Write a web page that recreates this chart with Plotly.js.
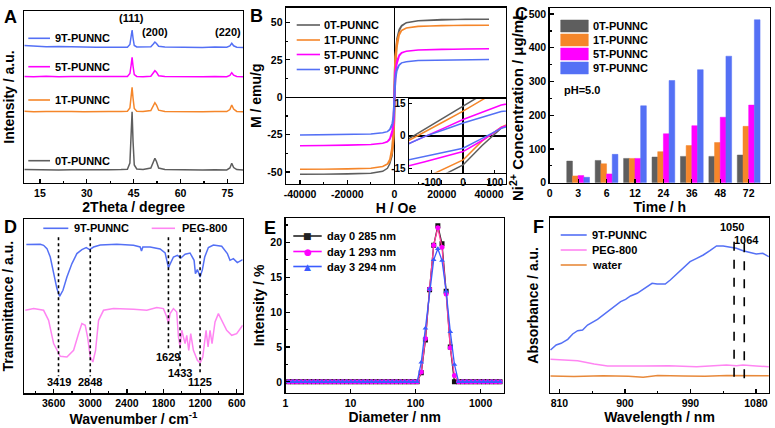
<!DOCTYPE html>
<html>
<head>
<meta charset="utf-8">
<script src="https://cdn.plot.ly/plotly-3.0.1.min.js"></script>
<style>
  html, body { margin: 0; padding: 0; background: #fff; }
  #chart { width: 775px; height: 428px; }
</style>
</head>
<body>
<div id="chart"></div>
<script>
// ---- A: XRD ----
const xrdTheta = [10, 13, 17, 21, 25, 29, 33, 37, 41, 43, 43.8, 44.2, 44.5, 44.8, 45.2, 46, 48, 50.5, 51.3, 51.8, 52.3, 53, 55, 59, 63, 67, 71, 74.8, 75.8, 76.4, 77, 78, 80];
const xrd9T = [137.5, 136.8, 136.2, 136.4, 135.9, 136.1, 135.7, 135.9, 135.6, 135.8, 138.5, 146, 153, 145, 137.5, 136, 135.8, 136.2, 139, 141, 139.5, 136.8, 135.9, 135.7, 136, 135.6, 135.9, 135.7, 137, 139.7, 137.2, 135.8, 135.6];
const xrd5T = [106.6, 106.3, 106.8, 106.2, 106.5, 106.3, 106.6, 106.2, 106.4, 106.5, 109.5, 118, 125.7, 117, 108.5, 106.6, 106.3, 106.8, 110.5, 112.3, 110.8, 107.3, 106.4, 106.2, 106.5, 106.3, 106.6, 106.2, 107.5, 110.3, 107.8, 106.5, 106.3];
const xrd1T = [71.8, 71.3, 71.6, 71.2, 71.5, 71.3, 71.7, 71.4, 71.6, 71.8, 75, 86, 95.7, 85, 74.5, 71.8, 71.5, 72.5, 77.5, 80.3, 78, 72.8, 71.6, 71.3, 71.5, 71.2, 71.6, 71.4, 73.5, 78, 74, 71.6, 71.3];
const xrd0T = [13.5, 13.2, 13.4, 13, 13.3, 13.1, 13.4, 13.2, 13.5, 13.8, 20, 45, 71.3, 42, 18, 14, 13.5, 15, 21, 24.7, 21.5, 15, 13.5, 13.2, 13.3, 13, 13.2, 13.1, 15, 19.7, 15.5, 13.4, 13.1];
const xrdPeakLabels = ['(111)', '(200)', '(220)'];
const xrdPeakTheta = [44.2, 51.9, 75.3];

// ---- B: hysteresis loops ----
const fieldOe = [40000, 30000, 20000, 10000, 5000, 3000, 2000, 1000, 500, 200, 120, 60, 0, -60, -120, -200, -500, -1000, -2000, -3000, -5000, -10000, -20000, -30000, -40000,
  -40000, -30000, -20000, -10000, -5000, -3000, -2000, -1000, -500, -200, -120, -60, 0, 60, 120, 200, 500, 1000, 2000, 3000, 5000, 10000, 20000, 30000, 40000];
const mag0T = [52.2, 52.1, 51.9, 51.2, 49.8, 48, 45.5, 39, 32, 25, 22.5, 19, 13.7, 8.5, 3, -4, -22, -36, -44.5, -47.5, -49.5, -50.8, -51.3, -51.4, -51.4,
  -51.4, -51.4, -51.3, -50.8, -49.5, -47.5, -44.5, -39, -32, -25, -21.5, -18, -13.5, -4.5, 3.5, 9, 24, 36, 44.5, 47.5, 49.8, 51.2, 51.9, 52.1, 52.2];
const mag1T = [48.2, 48.1, 47.9, 47.3, 46.3, 44.8, 43, 37.5, 32, 27, 21.8, 16.6, 11.4, 6.6, 1.8, -4.5, -20, -33, -41.5, -44.5, -46.3, -47.4, -48, -48.2, -48.2,
  -48.2, -48.2, -48, -47.4, -46.3, -44.8, -43, -37.5, -32, -25, -19.5, -15.5, -11.2, -2.4, 4, 9, 21, 33, 41.5, 44.5, 46.3, 47.4, 48, 48.2, 48.2];
const mag5T = [32.4, 32.3, 32.1, 31.6, 30.8, 29.8, 28.3, 24.5, 20.5, 16.5, 14.2, 10.9, 7.5, 3.5, -0.5, -5.5, -15, -22, -27.5, -29.5, -30.8, -31.6, -32.1, -32.3, -32.4,
  -32.4, -32.3, -32.1, -31.6, -30.8, -29.8, -28.3, -24.5, -20.5, -15, -12, -9.5, -7.3, -2.2, 3.8, 8, 15, 22, 27.5, 29.5, 30.8, 31.6, 32.1, 32.3, 32.4];
const mag9T = [25.2, 25.1, 24.9, 24.5, 23.8, 23, 21.8, 19, 16, 12.8, 11.2, 8.6, 5.9, 2.8, -0.3, -5.7, -12.5, -17.5, -21.5, -23, -23.8, -24.5, -24.9, -25.1, -25.2,
  -25.2, -25.1, -24.9, -24.5, -23.8, -23, -21.8, -19, -16, -12, -9.5, -7.8, -5.75, -1.2, 3.4, 7, 12.5, 17.5, 21.5, 23, 23.8, 24.5, 24.9, 25.1, 25.2];
const magTickVals = [-50, -25, 0, 25, 50];
const magTickText = ['-50', '-25', '0', '25', '50'];
const fieldTickVals = [-40000, -20000, 0, 20000, 40000];
const fieldTickText = ['-40000', '-20000', '0', '20000', '40000'];
const insetXTickVals = [-100, 0, 100];
const insetXTickText = ['-100', '0', '100'];
const insetYTickVals = [-15, 0, 15];
const insetYTickText = ['-15', '0', '15'];

// ---- C: Ni2+ release ----
const timeLabels = ['0', '3', '6', '12', '24', '36', '48', '72'];
const ni0T = [64, 66, 72, 76, 78, 78, 82];
const ni1T = [20, 56, 72, 92, 110, 119, 167];
const ni5T = [21, 26, 72, 145, 169, 194, 230];
const ni9T = [16, 84, 228, 303, 335, 375, 483];

// ---- D: FTIR ----
const wn9T = [4047, 3818, 3764, 3709, 3655, 3600, 3546, 3502, 3447, 3382, 3300, 3219, 3137, 3066, 3011, 2946, 2837, 2565, 2292, 2183, 2161, 2139, 2020, 1856, 1774, 1720, 1682, 1638, 1573, 1518, 1447, 1366, 1300, 1278, 1246, 1202, 1164, 1126, 1066, 984, 848, 755, 712, 657, 592, 504];
const tr9T = [148.7, 149, 148, 144.7, 136.3, 119.7, 104.7, 97, 103, 116.3, 129.7, 139.7, 143.7, 145.7, 143.7, 146.3, 148.3, 149, 148, 146.3, 142.3, 146.3, 146.3, 144.3, 140.3, 125.7, 130.3, 136.3, 138, 135.3, 139, 140.3, 133, 119.7, 123.7, 116.3, 123.7, 136.3, 145.7, 148.3, 147, 139.7, 133, 134.7, 130.7, 133.7];
const wnPEG = [4063, 3927, 3764, 3682, 3600, 3491, 3382, 3273, 3191, 3137, 3082, 3044, 3000, 2957, 2913, 2864, 2783, 2619, 2292, 2074, 1911, 1802, 1747, 1720, 1693, 1638, 1584, 1556, 1529, 1502, 1475, 1447, 1420, 1387, 1355, 1311, 1246, 1202, 1158, 1126, 1104, 1071, 1039, 1006, 957, 902, 848, 766, 684, 603, 504];
const trPEG = [83, 84.7, 83, 73, 49.7, 37, 36.3, 43, 59.7, 69.7, 68, 56.3, 36.3, 31.3, 43, 73, 83, 84.7, 84, 83, 85.7, 84.7, 76.3, 69.7, 79.7, 84.7, 81.3, 56.3, 46.3, 63, 56.3, 49.7, 58, 43, 59.7, 43, 33, 30.3, 36.3, 53, 63, 46.3, 63, 49.7, 71.3, 79.7, 73, 63, 58, 59.7, 68];
const ftirBandLabels = ['3419', '2848', '1629', '1433', '1125'];
const ftirBandPos = [3520, 3000, 1720, 1529, 1202];

// ---- E: DLS ----
const diameterNm = [1.117, 1.294, 1.499, 1.736, 2.010, 2.328, 2.696, 3.122, 3.615, 4.187, 4.849, 5.615, 6.503, 7.531, 8.721, 10.10, 11.70, 13.54, 15.69, 18.17, 21.04, 24.36, 28.21, 32.67, 37.84, 43.82, 50.75, 58.77, 68.06, 78.82, 91.28, 105.7, 122.4, 141.8, 164.2, 190.1, 220.2, 255.0, 295.3, 342.0, 396.1, 458.7, 531.2, 615.1, 712.4, 825.0, 955.4, 1106, 1281, 1484, 1718, 1990];
const intDay0 = [0, 0, 0, 0, 0, 0, 0, 0, 0, 0, 0, 0, 0, 0, 0, 0, 0, 0, 0, 0, 0, 0, 0, 0, 0, 0, 0, 0, 0, 0, 0, 0, 1.3, 6.0, 13.2, 19.6, 22.4, 19.8, 13.0, 5.0, 0, 0, 0, 0, 0, 0, 0, 0, 0, 0, 0, 0];
const intDay1 = [0, 0, 0, 0, 0, 0, 0, 0, 0, 0, 0, 0, 0, 0, 0, 0, 0, 0, 0, 0, 0, 0, 0, 0, 0, 0, 0, 0, 0, 0, 0, 0, 1.4, 6.2, 13.3, 19.6, 22.1, 19.3, 12.6, 4.9, 0.9, 0, 0, 0, 0, 0, 0, 0, 0, 0, 0, 0];
const intDay3 = [0, 0, 0, 0, 0, 0, 0, 0, 0, 0, 0, 0, 0, 0, 0, 0, 0, 0, 0, 0, 0, 0, 0, 0, 0, 0, 0, 0, 0, 0, 0, 0, 2.8, 7.7, 13.3, 17.5, 19.1, 17.4, 13.0, 7.2, 2.5, 0, 0, 0, 0, 0, 0, 0, 0, 0, 0, 0];

// ---- F: NIR absorbance ----
const wl9T = [797.7, 805.5, 812.3, 821.4, 828.2, 835, 841.8, 848.6, 862.3, 876, 889.5, 894.1, 900.9, 907.7, 916.8, 923.6, 930.5, 937.3, 944.1, 955.4, 962.3, 971.4, 980.4, 989.5, 998.6, 1007.7, 1016.8, 1025.9, 1035, 1044.1, 1053.2, 1062.3, 1071.3, 1080.4, 1089.5, 1097.7];
const abs9T = [43, 48, 49.7, 53.7, 59, 62.3, 63, 68, 73.7, 81.3, 88, 91.3, 93.7, 97, 99.7, 103, 107, 109.7, 109, 109, 113, 119, 124.7, 131.3, 134.7, 138, 142.3, 147, 147, 145.7, 144.7, 142.3, 140.3, 139, 139.7, 136.3];
const wlPEG = [797.7, 835, 857.7, 876, 925.9, 960, 998.6, 1016.8, 1039.5, 1053.2, 1062.3, 1080.4, 1097.7];
const absPEG = [33.7, 32.3, 29, 27, 27, 27.2, 26.3, 27, 28, 27.3, 28, 27, 26.3];
const wlWater = [797.7, 830, 870, 905, 925, 945, 980, 1010, 1040, 1070, 1097.7];
const absWater = [17, 16.6, 17.2, 16.8, 15.7, 17.6, 17, 16.8, 17.4, 17, 17.3];
const laserLines = [1050, 1064];

// ---- styling ----
const FONT = '"Liberation Sans", Arial, sans-serif';
const GRAY = '#5e5e5e', ORANGE = '#f5862a', MAGENTA = '#ff00ff', BLUE = '#5470f5';
const PINK = '#ff85f2', WATER = '#e8893a';
const W = 775, H = 428;
const px = x => x / W;
const py = y => 1 - y / H;
const bold = (size) => ({ family: FONT, size: size, color: '#000', weight: 'bold' });

function frameAxis(dom, range, opts) {
  return Object.assign({
    domain: dom, range: range, showline: true, mirror: true, linecolor: '#000', linewidth: 1.4,
    ticks: 'inside', ticklen: 4, tickwidth: 1.2, tickcolor: '#000', tickfont: bold(10.5),
    showgrid: false, zeroline: false, fixedrange: true
  }, opts);
}
function axTitle(text, standoff, size) {
  return { text: text, font: bold(size || 14), standoff: standoff };
}
function line(xv, yv, color, xa, ya) {
  return { x: xv, y: yv, xaxis: xa, yaxis: ya, type: 'scatter', mode: 'lines',
    line: { color: color, width: 1.5 }, showlegend: false, hoverinfo: 'skip' };
}
const minor = (dt, t0) => ({ ticks: 'inside', ticklen: 2, dtick: dt, tick0: t0 || 0 });

const shapes = [];
const annotations = [];
function keyLine(x0, x1, y, color) {
  shapes.push({ type: 'line', xref: 'paper', yref: 'paper', x0: px(x0), x1: px(x1), y0: py(y), y1: py(y),
    line: { color: color, width: 1.6 } });
}
function keyRect(x0, x1, y, color) {
  shapes.push({ type: 'rect', xref: 'paper', yref: 'paper', x0: px(x0), x1: px(x1), y0: py(y + 6), y1: py(y - 6),
    fillcolor: color, line: { color: color, width: 0.5 } });
}
function text(x, y, t, size, anchor) {
  annotations.push({ xref: 'paper', yref: 'paper', x: px(x), y: py(y), text: t, showarrow: false,
    xanchor: anchor || 'left', yanchor: 'middle', font: bold(size || 11) });
}

// panel letters
[['A', 10, 17], ['B', 256, 16], ['C', 521, 14], ['D', 10, 227], ['E', 270, 228], ['F', 538, 227]]
  .forEach(p => text(p[1], p[2], p[0], 18, 'center'));

// C y title, placed by hand because it is longer than the axis
annotations.push({ xref: 'paper', yref: 'paper', x: px(517), y: py(106), text: 'Ni<sup>2+</sup> Concentration / μg/mL',
  textangle: -90, showarrow: false, xanchor: 'center', yanchor: 'middle', font: bold(15) });

// A inline legend
[['9T-PUNNC', BLUE, 38.3], ['5T-PUNNC', MAGENTA, 66.7], ['1T-PUNNC', ORANGE, 100], ['0T-PUNNC', GRAY, 160.7]]
  .forEach(r => { keyLine(28.3, 50, r[2], r[1]); text(53.3, r[2], r[0]); });
// A peak labels
const peakY = [18.3, 31.7, 32.3];
xrdPeakLabels.forEach((t, i) => annotations.push({ xref: 'x', yref: 'paper', x: xrdPeakTheta[i], y: py(peakY[i]),
  text: t, showarrow: false, xanchor: 'center', yanchor: 'middle', font: bold(11) }));

// B legend
[['0T-PUNNC', GRAY, 25], ['1T-PUNNC', ORANGE, 40], ['5T-PUNNC', MAGENTA, 54.5], ['9T-PUNNC', BLUE, 69.5]]
  .forEach(r => { keyLine(296.7, 320, r[2], r[1]); text(322, r[2], r[0]); });

// C legend
[['0T-PUNNC', GRAY, 26], ['1T-PUNNC', ORANGE, 40], ['5T-PUNNC', MAGENTA, 54], ['9T-PUNNC', BLUE, 68]]
  .forEach(r => { keyRect(560.7, 588.3, r[2], r[1]); text(591, r[2], r[0]); });
text(561.5, 90, 'pH=5.0');

// D legend
keyLine(43.3, 68.3, 228.3, BLUE); text(71.7, 228.3, '9T-PUNNC');
keyLine(151.7, 175, 228.3, PINK); text(180, 228.3, 'PEG-800');
// D band markers
const bandTop = 156;
const bandBottom = [17, 17, 43, 26, 19];
const bandLabelY = [11.3, 11.3, 36.3, 20.3, 11.3];
ftirBandPos.forEach((w, i) => {
  shapes.push({ type: 'line', xref: 'x5', yref: 'y5', x0: w, x1: w, y0: bandTop, y1: bandBottom[i],
    line: { color: '#000', width: 1.6, dash: 'dot' } });
  annotations.push({ xref: 'x5', yref: 'y5', x: w, y: bandLabelY[i], text: ftirBandLabels[i], showarrow: false,
    xanchor: 'center', yanchor: 'middle', font: bold(11) });
});

// E legend
[['day 0 285 nm', '#222', '■', 236], ['day 1 293 nm', MAGENTA, '●', 251.5], ['day 3 294 nm', '#3a5cff', '▲', 266.5]]
  .forEach(r => {
    keyLine(293.3, 321.7, r[3], r[1]);
    annotations.push({ xref: 'paper', yref: 'paper', x: px(307.5), y: py(r[3]), text: r[2], showarrow: false,
      xanchor: 'center', yanchor: 'middle', font: { family: 'DejaVu Sans', size: 9, color: r[1] } });
    text(325, r[3], r[0]);
  });

// F legend
[['9T-PUNNC', BLUE, 235], ['PEG-800', PINK, 250], ['water', WATER, 265]]
  .forEach(r => { keyLine(560.7, 586.7, r[2], r[1]); text(590, r[2], r[0]); });
// F laser lines
const laserTop = [151.3, 149.7];
const laserBottom = [13, 6];
const laserLabelY = [166.3, 153];
const laserLabelX = [1047.7, 1067];
laserLines.forEach((w, i) => {
  shapes.push({ type: 'line', xref: 'x7', yref: 'y7', x0: w, x1: w, y0: laserTop[i], y1: laserBottom[i],
    line: { color: '#000', width: 1.6, dash: 'dash' } });
  annotations.push({ xref: 'x7', yref: 'y7', x: laserLabelX[i], y: laserLabelY[i], text: String(w), showarrow: false,
    xanchor: 'center', yanchor: 'middle', font: bold(11) });
});

const traces = [];
// A
[[xrd0T, GRAY], [xrd1T, ORANGE], [xrd5T, MAGENTA], [xrd9T, BLUE]]
  .forEach(s => traces.push(line(xrdTheta, s[0], s[1], 'x', 'y')));
// B main + inset
[[mag0T, GRAY], [mag1T, ORANGE], [mag5T, MAGENTA], [mag9T, BLUE]].forEach(s => {
  traces.push(line(fieldOe, s[0], s[1], 'x2', 'y2'));
  traces.push(line(fieldOe, s[0], s[1], 'x3', 'y3'));
});
// C
const barTimes = timeLabels.slice(1);
[[ni0T, GRAY], [ni1T, ORANGE], [ni5T, MAGENTA], [ni9T, BLUE]].forEach(s => traces.push({
  type: 'bar', x: barTimes, y: s[0], xaxis: 'x4', yaxis: 'y4', showlegend: false, hoverinfo: 'skip',
  marker: { color: s[1], line: { color: s[1], width: 0.5 } }
}));
// D
traces.push(line(wn9T, tr9T, BLUE, 'x5', 'y5'));
traces.push(line(wnPEG, trPEG, PINK, 'x5', 'y5'));
// E
[[intDay0, '#222', '#111', 'square'], [intDay1, '#ff3d9e', MAGENTA, 'circle'], [intDay3, '#3a5cff', '#3a5cff', 'triangle-up']]
  .forEach(s => traces.push({ type: 'scatter', mode: 'lines+markers', x: diameterNm, y: s[0], xaxis: 'x6', yaxis: 'y6',
    line: { color: s[1], width: 1.3 }, marker: { color: s[2], symbol: s[3], size: 5 }, showlegend: false, hoverinfo: 'skip' }));
// F
traces.push(line(wlWater, absWater, WATER, 'x7', 'y7'));
traces.push(line(wlPEG, absPEG, PINK, 'x7', 'y7'));
traces.push(line(wl9T, abs9T, BLUE, 'x7', 'y7'));

const layout = {
  width: W, height: H, margin: { l: 0, r: 0, t: 0, b: 0 },
  paper_bgcolor: '#fff', plot_bgcolor: 'rgba(0,0,0,0)', showlegend: false,
  barmode: 'group', bargap: 0.2, bargroupgap: 0,
  font: { family: FONT, color: '#000' },
  // A
  xaxis: frameAxis([px(24.3), px(243)], [10, 80], { anchor: 'y', tickvals: [15, 30, 45, 60, 75],
    minor: minor(7.5, 15), title: axTitle('2Theta / degree', 3) }),
  yaxis: frameAxis([py(183), py(11)], [0, 172], { anchor: 'x', ticks: '', showticklabels: false,
    title: axTitle('Intensity / a.u.', 5) }),
  // B
  xaxis2: frameAxis([px(286), px(506)], [-45926, 47196], { anchor: 'y2', tickvals: fieldTickVals, ticktext: fieldTickText,
    minor: minor(10000), title: axTitle('H / Oe', 1),
    zeroline: true, zerolinecolor: '#000', zerolinewidth: 1.5 }),
  yaxis2: frameAxis([py(184), py(7.5)], [-58, 60], { anchor: 'x2', tickvals: magTickVals, ticktext: magTickText,
    minor: minor(12.5), title: axTitle('M / emu/g', 2),
    zeroline: true, zerolinecolor: '#000', zerolinewidth: 1.5 }),
  // B inset
  xaxis3: frameAxis([px(409), px(506)], [-170, 135], { anchor: 'y3', tickvals: insetXTickVals, ticktext: insetXTickText,
    ticklen: 3, tickfont: bold(10), zeroline: true, zerolinecolor: '#000', zerolinewidth: 1.5 }),
  yaxis3: frameAxis([py(172.5), py(99)], [-17, 17], { anchor: 'x3', tickvals: insetYTickVals, ticktext: insetYTickText,
    ticklen: 3, tickfont: bold(10), zeroline: true, zerolinecolor: '#000', zerolinewidth: 1.5 }),
  // C
  xaxis4: frameAxis([px(549.7), px(770)], [0, 7.75], { anchor: 'y4', type: 'category', categoryorder: 'array',
    categoryarray: timeLabels, title: axTitle('Time / h', 1) }),
  yaxis4: frameAxis([py(182.7), py(8.3)], [0, 517], { anchor: 'x4', dtick: 100, minor: minor(50) }),
  // D
  xaxis5: frameAxis([px(24.3), px(242.7)], [4080, 504], { anchor: 'y5', tickvals: [3600, 3000, 2400, 1800, 1200, 600],
    minor: minor(300), title: axTitle('Wavenumber / cm<sup>-1</sup>', 3) }),
  yaxis5: frameAxis([py(393.3), py(219)], [0, 174.3], { anchor: 'x5', ticks: '', showticklabels: false,
    title: axTitle('Transmittance / a.u.', 7) }),
  // E
  xaxis6: frameAxis([px(285.5), px(504)], [0, 3.36], { anchor: 'y6', type: 'log', tickvals: [1, 10, 100, 1000],
    ticktext: ['1', '10', '100', '1000'], title: axTitle('Diameter / nm', 1) }),
  yaxis6: frameAxis([py(393), py(218)], [-1.6, 23.5], { anchor: 'x6', tickvals: [0, 5, 10, 15, 20],
    minor: minor(2.5), title: axTitle('Intensity / %', 2) }),
  // F
  xaxis7: frameAxis([px(550), px(769)], [797, 1098], { anchor: 'y7', tickvals: [810, 900, 990, 1080],
    minor: minor(45, 810), title: axTitle('Wavelength / nm', 1) }),
  yaxis7: frameAxis([py(393), py(217.7)], [0, 175.3], { anchor: 'x7', ticks: '', showticklabels: false,
    title: axTitle('Absorbance / a.u.', 6) }),
  shapes: shapes,
  annotations: annotations
};

Plotly.newPlot('chart', traces, layout, { staticPlot: true, displayModeBar: false });
</script>
</body>
</html>
